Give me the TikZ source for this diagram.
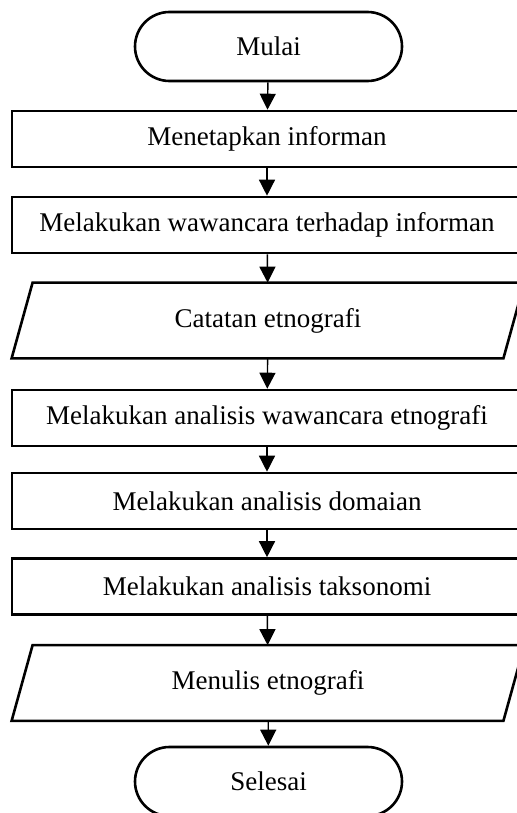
\documentclass[tikz,border=0pt]{standalone}
\usepackage{fontspec}
\setmainfont{Liberation Serif}
\usetikzlibrary{arrows.meta,calc}

\begin{document}
\begin{tikzpicture}[x = 0.5pt, y = -0.5pt,
  terminal/.style = {draw, line width = 1.3pt, rounded corners = 17.25pt,
    minimum width = 133.5pt, minimum height = 34.5pt, inner sep = 0pt},
  process/.style  = {draw, line width = 1.3pt, minimum width = 255pt,
    minimum height = 28pt, inner sep = 0pt},
  datain/.style   = {minimum width = 245.5pt, minimum height = 37.5pt, inner sep = 0pt},
  slanted/.style  = {line width = 1.3pt, line join = miter},
  flow/.style     = {line width = 0.7pt, -{Triangle[width = 8pt, length = 8pt]}}]
\fontsize{13.5}{16}\selectfont

% The page is the 517 x 813 area, the boxes run past its right edge
\useasboundingbox (0,0) rectangle (517,813);
\clip (0,0) rectangle (517,813);

% shapes, top to bottom
\node[terminal] (mulai)   at (268.5, 46.5) {Mulai};
\node[process]  (tetap)   at (267, 139)    {Menetapkan informan};
\node[process]  (wawan)   at (267, 225)    {Melakukan wawancara terhadap informan};
\node[datain]   (catat)   at (268, 320.5)  {Catatan etnografi};
\node[process]  (analwaw) at (267, 418)    {Melakukan analisis wawancara etnografi};
\node[process]  (domain)  at (267, 501)    {Melakukan analisis domaian};
\node[process]  (takson)  at (267, 586.5)  {Melakukan analisis taksonomi};
\node[datain]   (tulis)   at (268, 683)    {Menulis etnografi};
\node[terminal] (selesai) at (268.5, 781.5) {Selesai};

% the two parallelograms
\foreach \p in {catat, tulis}
  \draw[slanted] ($(\p.south west)+(-10.5,0)$) -- ($(\p.north west)+(10.5,0)$)
    -- ($(\p.north east)+(10.5,0)$) -- ($(\p.south east)+(-10.5,0)$) -- cycle;

% arrows
\draw[flow] (mulai)   -- (tetap);
\draw[flow] (tetap)   -- (wawan);
\draw[flow] (wawan)   -- (catat);
\draw[flow] (catat)   -- (analwaw);
\draw[flow] (analwaw) -- (domain);
\draw[flow] (domain)  -- (takson);
\draw[flow] (takson)  -- (tulis);
\draw[flow] (tulis)   -- (selesai);

\end{tikzpicture}
\end{document}
